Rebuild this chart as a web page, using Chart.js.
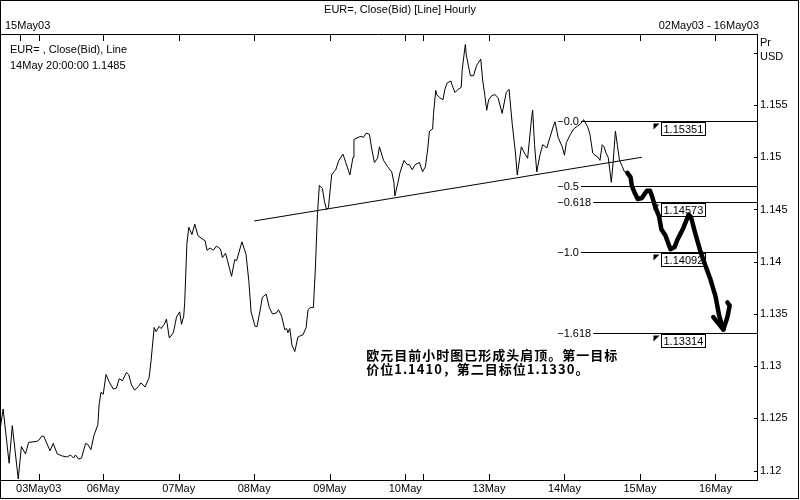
<!DOCTYPE html>
<html>
<head>
<meta charset="utf-8">
<script src="https://cdn.jsdelivr.net/npm/chart.js@4.4.1/dist/chart.umd.min.js"></script>
<style>
  html, body { margin: 0; padding: 0; background: #fff; }
  #wrap { width: 800px; height: 500px; }
</style>
</head>
<body>
<div id="wrap"><canvas id="fxChart" width="800" height="500"></canvas></div>
<script>
// hourly closes, x = hours from left edge of the window (weekend compressed)
const hours = [
  0, 1.0, 2.9, 3.9, 5.8, 6.8, 8.1, 9.1, 11.7, 12.3, 13.3, 13.9, 15.9, 16.9, 18.2, 19.8, 21.4, 22.4, 23.4, 24.0,
  25.0, 25.9, 27.2, 27.9, 28.9, 29.8, 31.1, 31.5, 32.1, 32.8, 33.7, 34.7, 36.0, 37.0, 37.9, 38.9, 40.2, 40.9, 41.8, 42.8,
  44.1, 44.8, 46.1, 47.4, 48.0, 49.0, 49.6, 50.6, 51.2, 52.2, 52.9, 53.8, 55.1, 56.1, 57.1, 57.7, 58.4, 58.7, 59.4, 60.0,
  61.0, 61.9, 62.9, 64.2, 65.2, 65.8, 66.8, 67.8, 68.8, 70.1, 70.7, 71.7, 72.3, 73.6, 74.6, 75.2, 76.9, 78.2, 79.1, 79.8,
  81.1, 81.7, 82.7, 83.4, 84.6, 85.6, 86.6, 87.9, 88.5, 89.5, 90.5, 91.1, 91.5, 92.1, 92.8, 93.7, 94.7, 95.4, 96.3, 97.3,
  97.9, 98.6, 99.6, 100.2, 100.9, 101.5, 102.5, 103.1, 103.8, 104.4, 105.4, 106.1, 106.7, 107.7, 109.0, 109.9, 111.2, 112.2, 112.5, 113.8,
  114.8, 115.5, 116.4, 117.4, 118.1, 119.0, 120.0, 120.6, 121.9, 123.2, 124.5, 125.2, 125.5, 126.5, 127.1, 128.4, 129.4, 130.1, 131.0, 132.0,
  133.3, 134.3, 135.2, 135.9, 136.5, 137.5, 137.8, 138.5, 138.8, 139.8, 140.8, 141.4, 142.1, 143.3, 143.7, 144.6, 145.6, 146.6, 146.9, 147.9,
  148.2, 149.5, 150.5, 151.5, 152.8, 153.4, 154.1, 154.7, 155.3, 156.3, 157.3, 158.3, 159.6, 160.9, 161.8, 162.8, 163.8, 164.4, 165.7, 166.7,
  167.7, 169.0, 169.3, 169.9, 170.6, 171.6, 172.5, 173.8, 174.8, 175.8, 176.4, 177.4, 178.7, 179.4, 180.0, 181.3, 182.3, 183.6, 184.5, 185.5,
  186.8, 187.5, 188.4, 189.1, 190.1, 190.7, 191.4, 192.0, 192.6, 193.3, 194.3, 194.9, 195.6, 196.2, 196.9, 197.8, 198.5, 199.4
];
const closes = [
  1.1239, 1.1259, 1.1207, 1.1243, 1.1192, 1.1223, 1.1216, 1.1227, 1.1228, 1.1229, 1.1233, 1.1233, 1.1219, 1.1226, 1.1216, 1.1214, 1.1213, 1.1215, 1.1212, 1.1215,
  1.1211, 1.1212, 1.1226, 1.1225, 1.1220, 1.1233, 1.1244, 1.1263, 1.1275, 1.1273, 1.1292, 1.1285, 1.1278, 1.1279, 1.1288, 1.1286, 1.1294, 1.1292, 1.1282, 1.1277,
  1.1281, 1.1284, 1.1280, 1.1289, 1.1305, 1.1337, 1.1333, 1.1338, 1.1336, 1.1340, 1.1345, 1.1327, 1.1332, 1.1347, 1.1352, 1.1340, 1.1348, 1.1361, 1.1417, 1.1433,
  1.1426, 1.1436, 1.1425, 1.1422, 1.1420, 1.1411, 1.1413, 1.1411, 1.1415, 1.1412, 1.1404, 1.1408, 1.1401, 1.1386, 1.1402, 1.1401, 1.1419, 1.1407, 1.1381, 1.1352,
  1.1338, 1.1338, 1.1354, 1.1366, 1.1369, 1.1356, 1.1350, 1.1351, 1.1354, 1.1348, 1.1335, 1.1336, 1.1332, 1.1336, 1.1320, 1.1314, 1.1328, 1.1329, 1.1330, 1.1337,
  1.1354, 1.1356, 1.1356, 1.1391, 1.1446, 1.1473, 1.1470, 1.1458, 1.1450, 1.1452, 1.1483, 1.1486, 1.1488, 1.1497, 1.1503, 1.1495, 1.1483, 1.1500, 1.1517, 1.1519,
  1.1520, 1.1519, 1.1523, 1.1522, 1.1509, 1.1495, 1.1499, 1.1510, 1.1497, 1.1491, 1.1486, 1.1476, 1.1463, 1.1476, 1.1485, 1.1497, 1.1493, 1.1493, 1.1488, 1.1493,
  1.1495, 1.1486, 1.1491, 1.1507, 1.1525, 1.1527, 1.1542, 1.1564, 1.1560, 1.1557, 1.1555, 1.1565, 1.1571, 1.1573, 1.1569, 1.1562, 1.1565, 1.1567, 1.1584, 1.1608,
  1.1598, 1.1578, 1.1578, 1.1588, 1.1594, 1.1574, 1.1559, 1.1545, 1.1555, 1.1559, 1.1560, 1.1557, 1.1542, 1.1562, 1.1565, 1.1532, 1.1505, 1.1483, 1.1510, 1.1504,
  1.1499, 1.1539, 1.1545, 1.1512, 1.1486, 1.1502, 1.1512, 1.1509, 1.1519, 1.1529, 1.1534, 1.1519, 1.1510, 1.1502, 1.1514, 1.1522, 1.1527, 1.1530, 1.1532, 1.1536,
  1.1529, 1.1522, 1.1504, 1.1502, 1.1500, 1.1497, 1.1512, 1.1510, 1.1504, 1.1500, 1.1476, 1.1496, 1.1525, 1.1512, 1.1497, 1.1491, 1.1486, 1.1485
];

// hand drawn projection (thick) and its arrow head
const projHours = [199.4, 200.4, 200.8, 201.7, 202.7, 204.0, 205.6, 206.6, 207.2, 208.2, 209.5, 210.2, 211.5, 213.1,
  214.4, 215.3, 217.0, 218.9, 219.6, 220.9, 222.5, 224.1, 225.7, 227.4, 228.6, 229.9];
const projPrices = [1.1485, 1.1481, 1.1473, 1.1466, 1.1460, 1.1461, 1.1468, 1.1468, 1.1463, 1.1453, 1.1443, 1.1431, 1.1425, 1.1412,
  1.1414, 1.1421, 1.1431, 1.1445, 1.1443, 1.1428, 1.1411, 1.1397, 1.1384, 1.1367, 1.1348, 1.1335];
const arrowHours = [226.7, 229.9, 231.2, 231.9, 231.2];
const arrowPrices = [1.1347, 1.1335, 1.1347, 1.1358, 1.1361];

// neckline
const neckHours = [80.8, 204.0];
const neckPrices = [1.1439, 1.1500];

// fibonacci levels
const fibLabels = ["\u22120.0", "\u22120.5", "\u22120.618", "\u22121.0", "\u22121.618"];
const fibPrices = [1.15351, 1.147215, 1.14573, 1.14092, 1.13314];
const fibBoxTexts = ["1.15351", "", "1.14573", "1.14092", "1.13314"];
const fibLabelHour = 177.1;
const fibBoxHour = 210.2;

// axes
const xTickHours = [12.3, 32.8, 56.8, 80.8, 104.8, 128.8, 134.6, 155.4, 179.4, 203.4, 227.4];
const xTickLabels = ["03May03", "06May", "07May", "08May", "09May", "10May", "", "13May", "14May", "15May", "16May"];
const topTickHours = [6.2, 12.3, 32.8, 56.8, 80.8, 104.8, 128.8, 134.6, 155.4, 179.4, 203.4, 227.4];
const yTickValues = [1.12, 1.125, 1.13, 1.135, 1.14, 1.145, 1.15, 1.155, 1.16];
const yTickLabels = ["1.12", "1.125", "1.13", "1.135", "1.14", "1.145", "1.15", "1.155", ""];

// texts
const titleText = "EUR=, Close(Bid) [Line] Hourly";
const leftDate = "15May03";
const rangeText = "02May03 - 16May03";
const infoLines = ["EUR= , Close(Bid), Line", "14May 20:00:00 1.1485"];
const unitLines = ["Pr", "USD"];
const noteLines = ["\u6b27\u5143\u76ee\u524d\u5c0f\u65f6\u56fe\u5df2\u5f62\u6210\u5934\u80a9\u9876\u3002\u7b2c\u4e00\u76ee\u6807",
                   "\u4ef7\u4f4d1.1410\uff0c\u7b2c\u4e8c\u76ee\u6807\u4f4d1.1330\u3002"];
const noteHour = 116.4;
const notePrices = [1.1311, 1.1297];

const FONT = '11px "Liberation Sans", Arial, sans-serif';
const CJK_FONT = 'bold 13px "Noto Sans CJK SC", sans-serif';

function pts(xs, ys) {
  return xs.map((x, i) => ({ x: x, y: ys[i] }));
}

const fibPlugin = {
  id: "fibLevels",
  beforeDatasetsDraw(chart) {
    const ctx = chart.ctx;
    const xs = chart.scales.x, ys = chart.scales.y;
    const right = chart.chartArea.right;
    ctx.save();
    ctx.font = FONT;
    ctx.fillStyle = "#000";
    ctx.strokeStyle = "#000";
    ctx.lineWidth = 1;
    ctx.textBaseline = "middle";
    fibPrices.forEach((p, i) => {
      const y = Math.round(ys.getPixelForValue(p)) + 0.5;
      const lx = xs.getPixelForValue(fibLabelHour);
      ctx.textAlign = "left";
      ctx.fillText(fibLabels[i], lx, y);
      const w = ctx.measureText(fibLabels[i]).width;
      ctx.beginPath();
      ctx.moveTo(lx + w + 2, y);
      ctx.lineTo(right, y);
      ctx.stroke();
      if (fibBoxTexts[i]) {
        const bx = Math.round(xs.getPixelForValue(fibBoxHour)) + 0.5;
        const by = y + 1;
        ctx.fillStyle = "#fff";
        ctx.fillRect(bx, by, 44, 13);
        ctx.strokeRect(bx, by, 44, 13);
        ctx.fillStyle = "#000";
        ctx.fillText(fibBoxTexts[i], bx + 2, by + 7);
        ctx.beginPath();
        ctx.moveTo(bx - 8, by + 1);
        ctx.lineTo(bx - 2, by + 1);
        ctx.lineTo(bx - 8, by + 7);
        ctx.closePath();
        ctx.fill();
      }
    });
    ctx.restore();
  }
};

const framePlugin = {
  id: "frame",
  afterDraw(chart) {
    const ctx = chart.ctx;
    const a = chart.chartArea;
    const xs = chart.scales.x, ys = chart.scales.y;
    ctx.save();
    ctx.strokeStyle = "#000";
    ctx.fillStyle = "#000";
    ctx.lineWidth = 1;
    // outer border + header separator
    ctx.strokeRect(0.5, 0.5, 798, 498);
    ctx.beginPath();
    ctx.moveTo(0, Math.round(a.top) + 0.5);
    ctx.lineTo(a.right, Math.round(a.top) + 0.5);
    ctx.stroke();
    // inward ticks, bottom and top
    ctx.beginPath();
    xTickHours.forEach(h => {
      const x = Math.round(xs.getPixelForValue(h)) + 0.5;
      ctx.moveTo(x, a.bottom);
      ctx.lineTo(x, a.bottom - 6);
    });
    topTickHours.forEach(h => {
      const x = Math.round(xs.getPixelForValue(h)) + 0.5;
      ctx.moveTo(x, a.top);
      ctx.lineTo(x, a.top + 7);
    });
    yTickValues.forEach(v => {
      const y = Math.round(ys.getPixelForValue(v)) + 0.5;
      ctx.moveTo(a.right, y);
      ctx.lineTo(a.right - 3, y);
    });
    ctx.stroke();

    ctx.font = FONT;
    ctx.textBaseline = "middle";
    // x labels
    ctx.textAlign = "center";
    xTickHours.forEach((h, i) => {
      const lbl = xTickLabels[i];
      if (!lbl) return;
      const w = ctx.measureText(lbl).width;
      const x = Math.max(xs.getPixelForValue(h), w / 2 + 2);
      ctx.fillText(lbl, x, a.bottom + 9);
    });
    // header texts
    ctx.fillText(titleText, 400, 10);
    ctx.textAlign = "left";
    ctx.fillText(leftDate, 5, 26);
    ctx.textAlign = "right";
    ctx.fillText(rangeText, a.right + 2, 26);
    ctx.textAlign = "left";
    ctx.fillText(infoLines[0], 10, 50);
    ctx.fillText(infoLines[1], 10, 66);
    ctx.fillText(unitLines[0], a.right + 3, 43);
    ctx.fillText(unitLines[1], a.right + 3, 57);
    // chinese note
    ctx.font = CJK_FONT;
    ctx.letterSpacing = "1px";
    noteLines.forEach((t, i) => {
      ctx.fillText(t, xs.getPixelForValue(noteHour), ys.getPixelForValue(notePrices[i]));
    });
    ctx.restore();
  }
};

new Chart(document.getElementById("fxChart"), {
  type: "line",
  data: {
    datasets: [
      {
        label: "arrow",
        data: pts(arrowHours, arrowPrices),
        borderColor: "#000",
        borderWidth: 4.5,
        borderJoinStyle: "round",
        borderCapStyle: "round",
        pointRadius: 0,
        tension: 0
      },
      {
        label: "projection",
        data: pts(projHours, projPrices),
        borderColor: "#000",
        borderWidth: 4.5,
        borderJoinStyle: "round",
        borderCapStyle: "round",
        pointRadius: 0,
        tension: 0
      },
      {
        label: "EUR=",
        data: pts(hours, closes),
        borderColor: "#000",
        borderWidth: 1,
        pointRadius: 0,
        tension: 0
      },
      {
        label: "neckline",
        data: pts(neckHours, neckPrices),
        borderColor: "#000",
        borderWidth: 1,
        pointRadius: 0,
        tension: 0
      }
    ]
  },
  options: {
    responsive: false,
    devicePixelRatio: 1,
    animation: false,
    layout: { padding: { top: 34, left: 0, right: 0, bottom: 0 } },
    plugins: {
      legend: { display: false },
      tooltip: { enabled: false },
      title: { display: false }
    },
    scales: {
      x: {
        type: "linear",
        position: "bottom",
        min: 0,
        max: 240.6,
        grid: { display: false, drawTicks: false },
        border: { display: true, color: "#000", width: 1 },
        ticks: { display: false },
        afterBuildTicks: s => { s.ticks = xTickHours.map(v => ({ value: v })); },
        afterFit: s => { s.height = 20; s.paddingLeft = 0; s.paddingRight = 0; }
      },
      y: {
        type: "linear",
        position: "right",
        min: 1.1191,
        max: 1.1618,
        grid: { display: false, drawTicks: false },
        border: { display: true, color: "#000", width: 1 },
        ticks: {
          color: "#000",
          padding: 3,
          font: { family: '"Liberation Sans", Arial, sans-serif', size: 11 },
          callback: (v, i) => yTickLabels[i]
        },
        afterBuildTicks: s => { s.ticks = yTickValues.map(v => ({ value: v })); },
        afterFit: s => { s.width = 43; s.paddingTop = 0; s.paddingBottom = 0; }
      }
    }
  },
  plugins: [fibPlugin, framePlugin]
});
</script>
</body>
</html>
